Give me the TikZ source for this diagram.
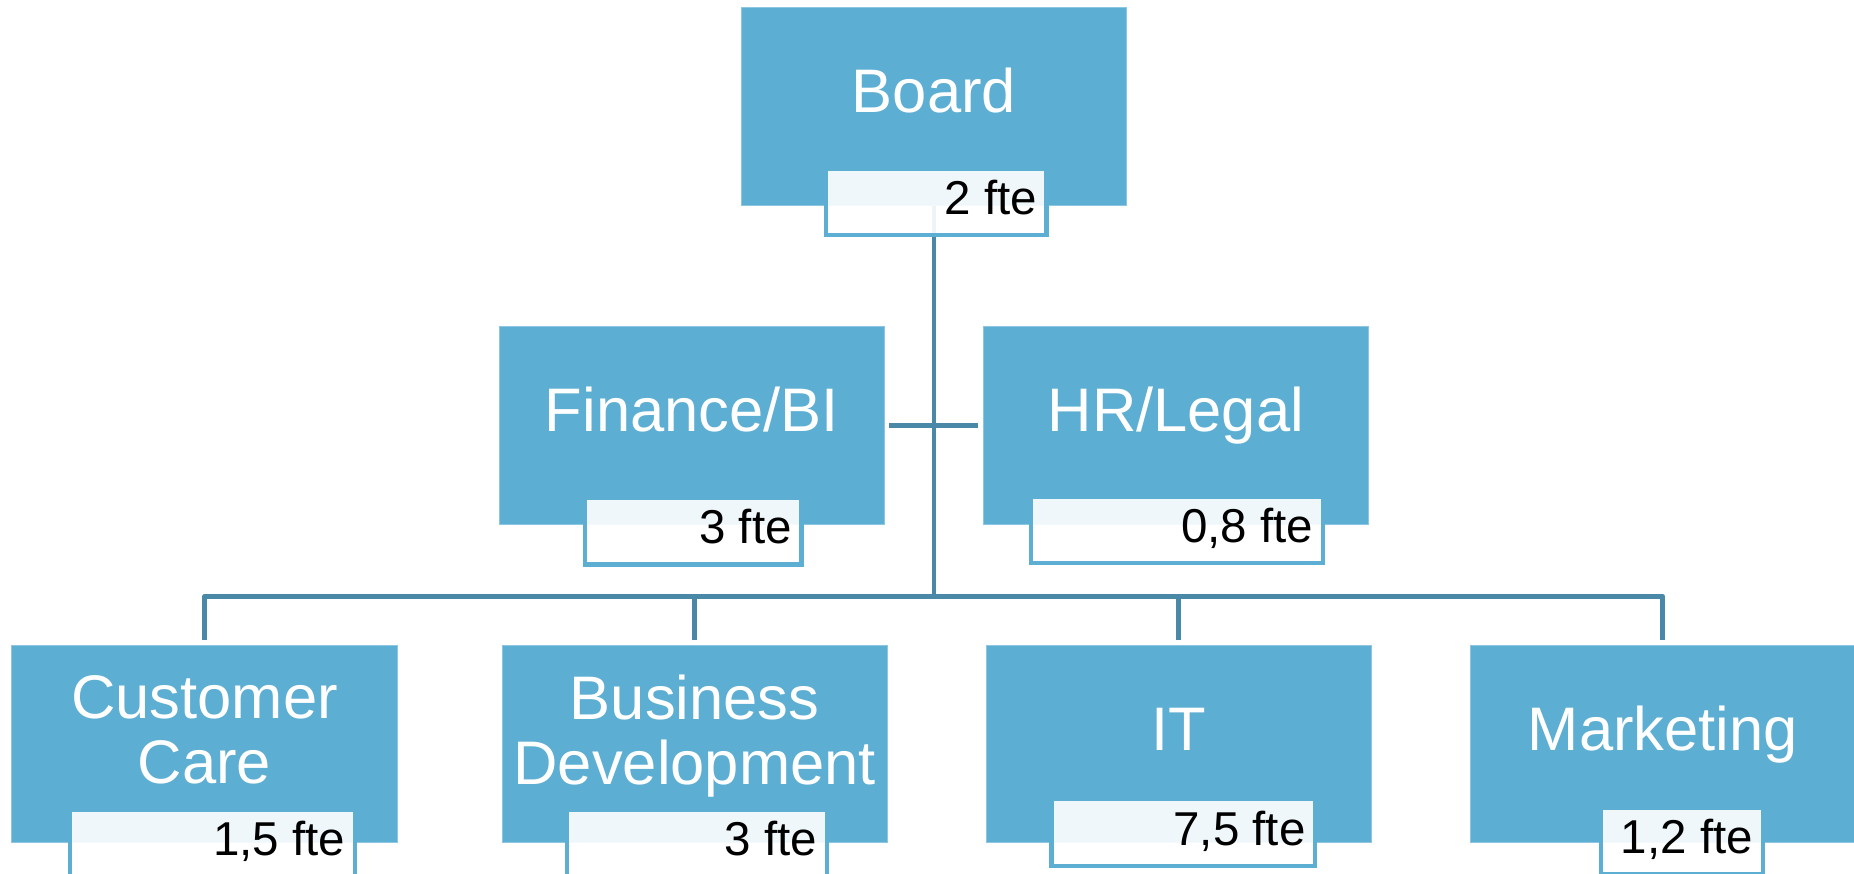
\documentclass[tikz,border=0pt]{standalone}
\usepackage{fontspec}
\setmainfont{Liberation Sans}
\definecolor{boxblue}{HTML}{5DAED3}
\definecolor{boxedge}{HTML}{8CC6E2}
\definecolor{connblue}{HTML}{4A88A8}
\tikzset{
  x=1pt, y=-1pt,
  unit/.style={rectangle, fill=boxblue, draw=boxedge, line width=0.8pt,
    minimum width=385.5pt, minimum height=197.5pt, inner sep=0pt,
    text=white, font=\fontsize{61.5}{65}\selectfont,
    text height=30pt, text depth=17.2pt},
  unittext/.style={text=white, font=\fontsize{61.5}{65}\selectfont, align=center, inner sep=0pt, anchor=north},
  ftebox/.style={rectangle, draw=boxblue, line width=4.3pt, fill=white, fill opacity=0.9,
    text opacity=1, minimum height=66.5pt, inner sep=0pt, anchor=north west},
  fte/.style={text=black, font=\fontsize{47.5}{52}\selectfont, inner sep=0pt, anchor=base east},
  conn/.style={draw=connblue, line width=4.7pt, line join=round}
}
\begin{document}
\begin{tikzpicture}
\useasboundingbox (0,0) rectangle (1854,873);
% units
\node[unit] (board) at (934,106.5) {Board};
\node[unit] (fin) at (691.8,425.3) {Finance/BI};
\node[unit] (hr) at (1175.8,425.3) {HR/Legal};
\node[unit] (cc) at (204.5,744) {};
\node[unit] (bd) at (694.7,744) {};
\node[unit] (it) at (1178.8,744) {IT};
\node[unit] (mkt) at (1662.8,744) {Marketing};
\node[unittext] (ccT) at (204.5,675) {Customer\\Care};
\node[unittext] (bdT) at (694.7,675) {Business\\Development};
% connectors
\coordinate (bus) at (934,596.3);
\draw[conn] (board.south) -- (bus);
\draw[conn, shorten <=4.5pt, shorten >=4.5pt] (fin.east) -- (hr.west);
\draw[conn] ([yshift=4.6pt]cc.north) -- (cc.north |- bus) -- (mkt.north |- bus) -- ([yshift=4.6pt]mkt.north);
\draw[conn] ([yshift=4.6pt]bd.north) -- (bd.north |- bus);
\draw[conn] ([yshift=4.6pt]it.north) -- (it.north |- bus);
% fte labels
\node[ftebox, minimum width=220.6pt] (boardL) at (823.85,166.2) {};
\node[fte] (boardF) at ([xshift=-11.65pt,yshift=-48pt]boardL.north east) {2 fte};
\node[ftebox, minimum width=216.7pt] (finL) at (582.65,495.85) {};
\node[fte] (finF) at ([xshift=-11.65pt,yshift=-48pt]finL.north east) {3 fte};
\node[ftebox, minimum width=292.2pt] (hrL) at (1028.65,494.55) {};
\node[fte] (hrF) at ([xshift=-11.65pt,yshift=-48pt]hrL.north east) {0,8 fte};
\node[ftebox, minimum width=285pt] (ccL) at (67.85,807.85) {};
\node[fte] (ccF) at ([xshift=-11.65pt,yshift=-48pt]ccL.north east) {1,5 fte};
\node[ftebox, minimum width=259.7pt] (bdL) at (564.85,807.85) {};
\node[fte] (bdF) at ([xshift=-11.65pt,yshift=-48pt]bdL.north east) {3 fte};
\node[ftebox, minimum width=263.7pt] (itL) at (1049.45,797.15) {};
\node[fte] (itF) at ([xshift=-11.65pt,yshift=-48pt]itL.north east) {7,5 fte};
\node[ftebox, minimum width=161.7pt] (mktL) at (1598.85,805.55) {};
\node[fte] (mktF) at ([xshift=-11.65pt,yshift=-48pt]mktL.north east) {1,2 fte};
\end{tikzpicture}
\end{document}
